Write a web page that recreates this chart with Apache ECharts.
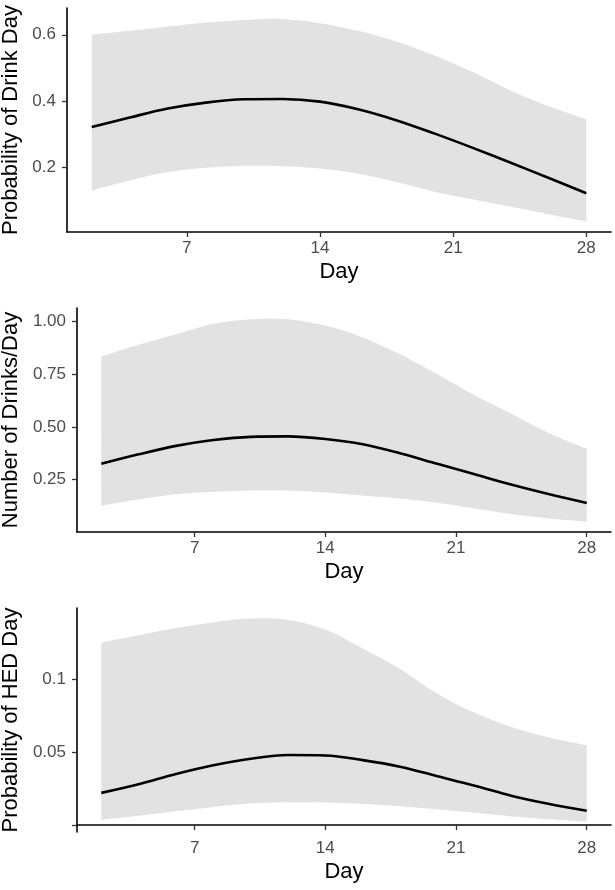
<!DOCTYPE html>
<html>
<head>
<meta charset="utf-8">
<script src="https://cdn.jsdelivr.net/npm/echarts@6/dist/echarts.min.js"></script>
<style>
html,body{margin:0;padding:0;background:#fff;}
#chart{width:615px;height:890px;}
</style>
</head>
<body>
<div id="chart"></div>
<script>
// ---- data ----
var days = [2, 4, 6, 8, 10, 12, 14, 16, 18, 20, 22, 24, 26, 28];

var drinkDayFit   = [0.321, 0.350, 0.377, 0.395, 0.405, 0.406, 0.398, 0.375, 0.342, 0.302, 0.259, 0.214, 0.168, 0.121];
var drinkDayUpper = [0.600, 0.612, 0.625, 0.637, 0.645, 0.648, 0.635, 0.612, 0.580, 0.538, 0.488, 0.432, 0.385, 0.345];
var drinkDayLower = [0.130, 0.160, 0.185, 0.198, 0.204, 0.203, 0.196, 0.180, 0.155, 0.126, 0.103, 0.081, 0.058, 0.036];

var drinksFit   = [0.325, 0.370, 0.410, 0.438, 0.453, 0.455, 0.443, 0.418, 0.375, 0.325, 0.275, 0.225, 0.180, 0.139];
var drinksUpper = [0.834, 0.890, 0.940, 0.990, 1.012, 1.012, 0.982, 0.925, 0.845, 0.750, 0.650, 0.560, 0.470, 0.396];
var drinksLower = [0.126, 0.155, 0.180, 0.192, 0.198, 0.198, 0.189, 0.174, 0.160, 0.140, 0.113, 0.085, 0.065, 0.050];

var hedFit   = [0.0221, 0.0280, 0.0350, 0.0410, 0.0455, 0.0480, 0.0477, 0.0445, 0.0400, 0.0335, 0.0270, 0.0200, 0.0145, 0.0099];
var hedUpper = [0.125, 0.130, 0.135, 0.139, 0.1415, 0.1405, 0.134, 0.121, 0.107, 0.090, 0.077, 0.067, 0.060, 0.0546];
var hedLower = [0.0037, 0.0065, 0.0095, 0.0125, 0.0148, 0.0156, 0.0155, 0.0145, 0.0130, 0.0108, 0.0085, 0.0060, 0.0040, 0.0023];

var xTicks = [7, 14, 21, 28];
var yTicks1 = [0.2, 0.4, 0.6];       var yLabels1 = ['0.2', '0.4', '0.6'];
var yTicks2 = [0.25, 0.5, 0.75, 1.0]; var yLabels2 = ['0.25', '0.50', '0.75', '1.00'];
var yTicks3 = [0, 0.05, 0.1];        var yLabels3 = ['', '0.05', '0.1'];

var yTitles = ['Probability of Drink Day', 'Number of Drinks/Day', 'Probability of HED Day'];
var xTitle = 'Day';

// ---- build ----
var FONT = 'Liberation Sans, Arial, sans-serif';
var panels = [
  {fit: drinkDayFit, up: drinkDayUpper, lo: drinkDayLower, ticks: yTicks1, labels: yLabels1, ymin: 0.004, ymax: 0.681, grid: {left: 67, top: 8}, nameGap: 38},
  {fit: drinksFit, up: drinksUpper, lo: drinksLower, ticks: yTicks2, labels: yLabels2, ymin: 0.001, ymax: 1.065, grid: {left: 77, top: 308}, nameGap: 49},
  {fit: hedFit, up: hedUpper, lo: hedLower, ticks: yTicks3, labels: yLabels3, ymin: -0.0047, ymax: 0.1487, grid: {left: 77, top: 608}, nameGap: 49}
];

function pairs(ys) { return days.map(function (d, i) { return [d, ys[i]]; }); }

// cubic (Catmull-Rom) path through pixel points, continuing an existing path
function curveTo(pts) {
  var s = '';
  for (var i = 0; i < pts.length - 1; i++) {
    var p0 = pts[Math.max(i - 1, 0)], p1 = pts[i], p2 = pts[i + 1], p3 = pts[Math.min(i + 2, pts.length - 1)];
    var c1x = p1[0] + (p2[0] - p0[0]) / 6, c1y = p1[1] + (p2[1] - p0[1]) / 6;
    var c2x = p2[0] - (p3[0] - p1[0]) / 6, c2y = p2[1] - (p3[1] - p1[1]) / 6;
    s += ' C' + c1x + ',' + c1y + ' ' + c2x + ',' + c2y + ' ' + p2[0] + ',' + p2[1];
  }
  return s;
}

var grids = [], xAxes = [], yAxes = [], series = [];
panels.forEach(function (p, k) {
  grids.push({left: p.grid.left, top: p.grid.top, right: 4, height: 224, containLabel: false, outerBoundsMode: 'none'});
  xAxes.push({
    type: 'value', gridIndex: k, min: 0.7, max: 29.3, z: 10,
    name: xTitle, nameLocation: 'middle', nameGap: 29,
    nameTextStyle: {fontFamily: FONT, fontSize: 22, color: '#000'},
    axisLine: {show: true, lineStyle: {color: '#000', width: 1.6}},
    axisTick: {show: true, customValues: xTicks, length: 5, lineStyle: {color: '#333', width: 1.3}},
    axisLabel: {customValues: xTicks, margin: 8, fontFamily: FONT, fontSize: 17, color: '#4d4d4d'},
    splitLine: {show: false}
  });
  var labs = p.labels, tks = p.ticks;
  yAxes.push({
    type: 'value', gridIndex: k, min: p.ymin, max: p.ymax, z: 10,
    name: yTitles[k], nameLocation: 'middle', nameGap: p.nameGap, nameRotate: 90,
    nameTextStyle: {fontFamily: FONT, fontSize: 22, color: '#000'},
    axisLine: {show: true, lineStyle: {color: '#000', width: 1.6}},
    axisTick: {show: true, customValues: tks, length: 5, lineStyle: {color: '#333', width: 1.3}},
    axisLabel: {customValues: tks, margin: 11, fontFamily: FONT, fontSize: 17, color: '#4d4d4d',
      formatter: function (v) {
        for (var i = 0; i < tks.length; i++) { if (Math.abs(tks[i] - v) < 1e-9) return labs[i]; }
        return '';
      }},
    splitLine: {show: false}
  });
  // confidence band as one filled region between upper and lower bounds
  var bandRows = days.map(function (d, i) { return [d, p.lo[i], p.up[i]]; });
  series.push({
    type: 'custom', xAxisIndex: k, yAxisIndex: k, data: bandRows,
    encode: {x: 0, y: [1, 2]}, silent: true, z: 1, clip: false,
    renderItem: function (params, api) {
      if (params.dataIndex !== 0) return null;
      var upPts = bandRows.map(function (r) { return api.coord([r[0], r[2]]); });
      var loPts = bandRows.map(function (r) { return api.coord([r[0], r[1]]); }).reverse();
      var path = 'M' + upPts[0][0] + ',' + upPts[0][1] + curveTo(upPts) +
                 ' L' + loPts[0][0] + ',' + loPts[0][1] + curveTo(loPts) + ' Z';
      return {type: 'path', shape: {pathData: path}, style: {fill: '#e2e2e2', stroke: null}};
    }
  });
  series.push({
    type: 'line', xAxisIndex: k, yAxisIndex: k, data: pairs(p.fit),
    smooth: 0.35, symbol: 'none', lineStyle: {color: '#000', width: 2.6}, z: 3
  });
});

var chart = echarts.init(document.getElementById('chart'), null, {renderer: 'canvas'});
chart.setOption({
  backgroundColor: '#fff',
  animation: false,
  grid: grids, xAxis: xAxes, yAxis: yAxes, series: series
});
</script>
</body>
</html>
